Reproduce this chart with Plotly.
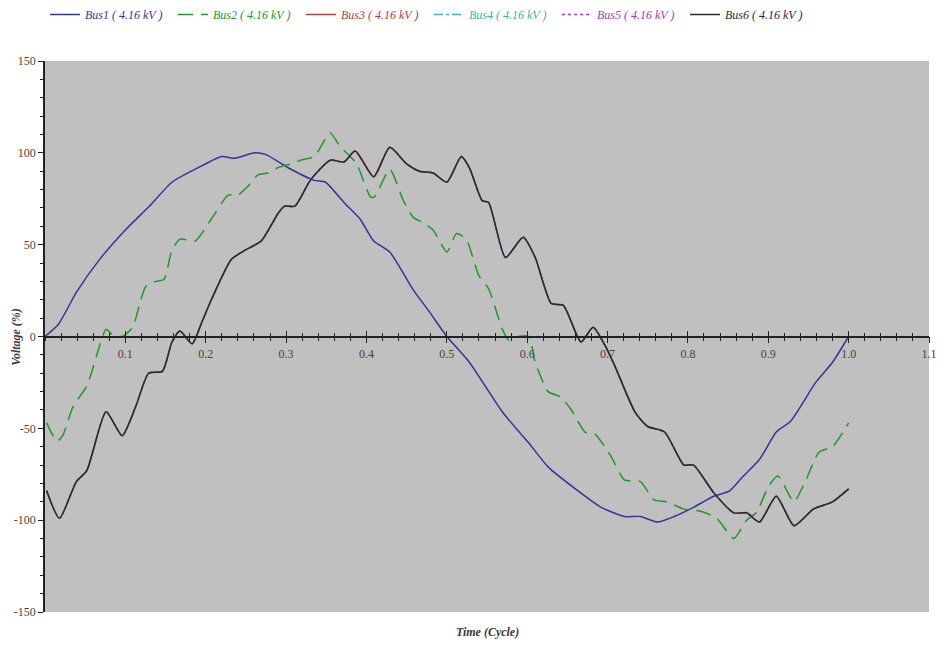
import plotly.graph_objects as go

# ---- data ----
bus1_t = [0.0, 0.0165, 0.039, 0.068, 0.1, 0.13, 0.158, 0.191, 0.22, 0.236, 0.261, 0.275, 0.302, 0.335,
          0.349, 0.372, 0.392, 0.409, 0.429, 0.458, 0.479, 0.5, 0.528, 0.569, 0.602, 0.626, 0.66,
          0.692, 0.721, 0.741, 0.762, 0.783, 0.807, 0.832, 0.852, 0.869, 0.889, 0.91, 0.928, 0.959, 0.98, 1.0]
bus1_v = [0, 6.5, 24, 42, 58, 71, 84, 92, 98, 97, 100, 99, 92, 85,
          84, 73, 64, 52, 46, 25.5, 13, 0, -14, -41, -58, -71, -83,
          -93, -98, -98, -101, -98, -93, -87, -84, -76, -67, -52, -46, -25, -14, 0]

bus2_t = [0.002, 0.015, 0.022, 0.035, 0.052, 0.068, 0.076, 0.084, 0.096, 0.109, 0.125, 0.138, 0.148,
          0.158, 0.168, 0.187, 0.207, 0.228, 0.24, 0.253, 0.265, 0.277, 0.29, 0.306, 0.318, 0.335,
          0.352, 0.355, 0.368, 0.38, 0.388, 0.405, 0.41, 0.429, 0.446, 0.458, 0.47, 0.483, 0.5,
          0.512, 0.524, 0.54, 0.552, 0.569, 0.577, 0.589, 0.602, 0.61, 0.626, 0.642, 0.655, 0.672,
          0.684, 0.704, 0.721, 0.741, 0.758, 0.774, 0.795, 0.815, 0.836, 0.857, 0.873, 0.885, 0.901,
          0.912, 0.922, 0.932, 0.947, 0.963, 0.98, 1.0]
bus2_v = [-47, -57, -54, -38, -27, -5, 4, 1, 0, 5, 27, 30, 31,
          47, 53, 52, 64, 77, 77, 82, 88, 89, 92, 94, 96, 98,
          110, 111, 103, 98, 94, 76, 76, 91, 74, 65, 62, 58, 46,
          56, 53, 33, 26, 4, -2, 0, 0, -14, -30, -33, -40, -52,
          -53, -65, -78, -79, -89, -90, -94, -95, -99, -110, -100, -96, -81,
          -76, -83, -90, -78, -63, -60, -47]

bus6_t = [0.002, 0.018, 0.039, 0.052, 0.076, 0.096, 0.113, 0.129, 0.146, 0.158, 0.168, 0.183, 0.195,
          0.207, 0.232, 0.249, 0.269, 0.29, 0.298, 0.311, 0.33, 0.355, 0.372, 0.386, 0.409, 0.429,
          0.45, 0.466, 0.483, 0.5, 0.518, 0.528, 0.544, 0.552, 0.573, 0.595, 0.61, 0.63, 0.645,
          0.667, 0.682, 0.697, 0.709, 0.734, 0.75, 0.771, 0.795, 0.807, 0.832, 0.857, 0.873, 0.889,
          0.91, 0.932, 0.956, 0.98, 1.0]
bus6_v = [-84, -99, -79, -73, -41, -54, -38, -20, -19, -3, 3, -4, 7.6,
          20, 42, 47, 52, 67, 71, 71, 85, 96, 95, 101, 87, 103,
          94, 90, 89, 84, 98, 92, 74, 73, 43, 54, 43, 18, 17,
          -3, 5, -5, -16, -41, -49, -52, -70, -70, -85, -96, -96, -101,
          -87, -103, -94, -90, -83]

# Bus3, Bus4, Bus5 coincide with Bus6 (hidden underneath it)
bus3_t, bus3_v = bus6_t, bus6_v
bus4_t, bus4_v = bus6_t, bus6_v
bus5_t, bus5_v = bus6_t, bus6_v

series_names = ["Bus1 ( 4.16 kV )", "Bus2 ( 4.16 kV )", "Bus3 ( 4.16 kV )",
                "Bus4 ( 4.16 kV )", "Bus5 ( 4.16 kV )", "Bus6 ( 4.16 kV )"]

x_tick_vals = [0.1, 0.2, 0.3, 0.4, 0.5, 0.6, 0.7, 0.8, 0.9, 1.0, 1.1]
x_tick_text = ["0.1", "0.2", "0.3", "0.4", "0.5", "0.6", "0.7", "0.8", "0.9", "1.0", "1.1"]
y_tick_vals = [-150, -100, -50, 0, 50, 100, 150]
y_tick_text = ["-150", "-100", "-50", "0", "50", "100", "150"]

# ---- styling ----
colors = ["#34349a", "#22962a", "#b04040", "#40b0b0", "#a040b0", "#2a2a2a"]
dashes = ["solid", "15px,8px", "solid", "dashdot", "dot", "solid"]
series = [(bus1_t, bus1_v), (bus2_t, bus2_v), (bus3_t, bus3_v),
          (bus4_t, bus4_v), (bus5_t, bus5_v), (bus6_t, bus6_v)]

fig = go.Figure()
for (t, v), name, c, d in zip(series, series_names, colors, dashes):
    fig.add_trace(go.Scatter(
        x=t, y=v, mode="lines",
        name='<i><span style="color:%s">%s</span></i>' % (c, name),
        line=dict(color=c, width=1.5, dash=d, shape="spline", smoothing=0.6),
    ))
# empty helper trace so the upward tick axis (x2) is drawn
fig.add_trace(go.Scatter(x=[], y=[], xaxis="x2", yaxis="y", showlegend=False, hoverinfo="skip"))

tick_font = dict(family="Liberation Serif", size=12, color="#4a4236")

fig.update_layout(
    width=946, height=645,
    margin=dict(l=45, r=9, t=61, b=33),
    paper_bgcolor="white",
    plot_bgcolor="#c0c0c0",
    showlegend=True,
    legend=dict(orientation="h", x=0.0, xanchor="left", y=1.0, yref="container", yanchor="top",
                font=dict(family="Liberation Serif", size=12),
                entrywidth=83, entrywidthmode="pixels", bgcolor="rgba(0,0,0,0)"),
    xaxis=dict(range=[0, 1.1], anchor="free", position=0.5, side="bottom",
               showgrid=False, zeroline=False, showline=True, linecolor="#222", linewidth=1.5,
               tickvals=x_tick_vals, ticktext=x_tick_text, ticks="outside", ticklen=6,
               tickcolor="#222", tickfont=tick_font,
               minor=dict(dtick=0.02, ticks="outside", ticklen=4, tickcolor="#222")),
    xaxis2=dict(range=[0, 1.1], overlaying="x", anchor="free", position=0.5, side="bottom",
                showgrid=False, zeroline=False, showline=False,
                tickvals=x_tick_vals, ticks="inside", ticklen=6, tickcolor="#222",
                showticklabels=False,
                minor=dict(dtick=0.02, ticks="inside", ticklen=4, tickcolor="#222")),
    yaxis=dict(range=[-150, 150], showgrid=False, zeroline=False, showline=True,
               linecolor="#222", linewidth=1.5, tickvals=y_tick_vals, ticktext=y_tick_text,
               ticks="outside", ticklen=5, tickcolor="#222", tickfont=tick_font,
               minor=dict(dtick=10, ticks="outside", ticklen=3, tickcolor="#222")),
    annotations=[
        dict(text="<i><b>Time (Cycle)</b></i>", x=0.5, y=-0.036, xref="paper", yref="paper",
             xanchor="center", yanchor="middle", showarrow=False,
             font=dict(family="Liberation Serif", size=12, color="#3a3a3a")),
        dict(text="<i><b>Voltage (%)</b></i>", x=-0.0336, xref="paper", y=0.5, yref="paper",
             xanchor="center", yanchor="middle", textangle=-90, showarrow=False,
             font=dict(family="Liberation Serif", size=12, color="#3a3a3a")),
    ],
)

fig.write_html("out.html")
